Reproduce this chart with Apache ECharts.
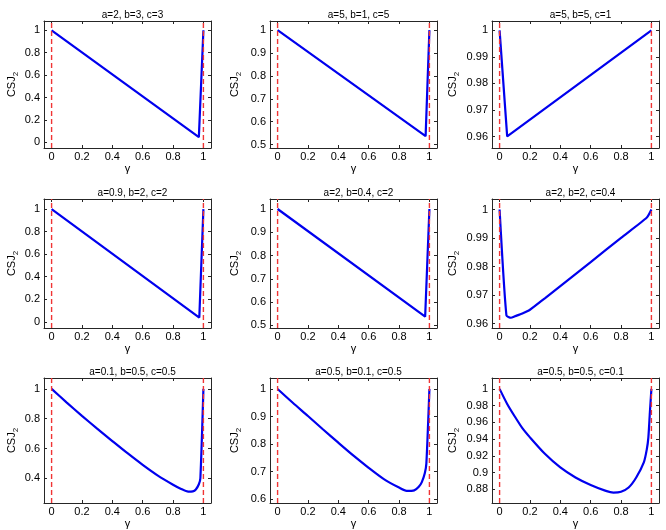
<!DOCTYPE html>
<html>
<head>
<meta charset="utf-8">
<script src="https://cdn.jsdelivr.net/npm/echarts@6/dist/echarts.min.js"></script>
<style>
  html, body { margin: 0; padding: 0; background: #fff; }
  #chart { width: 666px; height: 530px; }
</style>
</head>
<body>
<div id="chart"></div>
<script>
// shared gamma axis
const xTicks = [0, 0.2, 0.4, 0.6, 0.8, 1];
const boundaries = [0, 1];

const titles = [
  'a=2, b=3, c=3', 'a=5, b=1, c=5', 'a=5, b=5, c=1',
  'a=0.9, b=2, c=2', 'a=2, b=0.4, c=2', 'a=2, b=2, c=0.4',
  'a=0.1, b=0.5, c=0.5', 'a=0.5, b=0.1, c=0.5', 'a=0.5, b=0.5, c=0.1'
];

// curves
const p1x = [0, 0.97, 1];
const p1y = [1, 0.047, 1];
const p2x = [0, 0.975, 1];
const p2y = [1, 0.537, 1];
const p3x = [0, 0.05, 1];
const p3y = [1, 0.9601, 1];
const p4x = [0, 0.973, 1];
const p4y = [1, 0.038, 1];
const p5x = [0, 0.972, 1];
const p5y = [1, 0.538, 1];
const p6x = [0, 0.045, 0.075, 0.1, 0.15, 0.2, 0.3, 0.4, 0.6, 0.8, 0.97, 1];
const p6y = [1, 0.9629, 0.9621, 0.9626, 0.9636, 0.9649, 0.969, 0.9732, 0.9816, 0.9901, 0.9972, 1];
const p7x = [0, 0.1, 0.2, 0.3, 0.4, 0.5, 0.6, 0.7, 0.8, 0.85, 0.9, 0.93, 0.95, 0.97, 0.98, 1];
const p7y = [1, 0.908, 0.819, 0.733, 0.65, 0.568, 0.49, 0.418, 0.357, 0.33, 0.31, 0.312, 0.325, 0.36, 0.40, 1];
const p8x = [0, 0.1, 0.2, 0.3, 0.4, 0.5, 0.6, 0.7, 0.8, 0.85, 0.9, 0.93, 0.95, 0.97, 0.98, 1];
const p8y = [1, 0.95, 0.902, 0.853, 0.805, 0.758, 0.714, 0.673, 0.642, 0.63, 0.632, 0.645, 0.662, 0.695, 0.73, 1];
const p9x = [0, 0.05, 0.1, 0.15, 0.2, 0.3, 0.4, 0.5, 0.6, 0.7, 0.75, 0.8, 0.85, 0.9, 0.95, 0.97, 0.98, 0.99, 1];
const p9y = [1, 0.982, 0.967, 0.953, 0.942, 0.922, 0.906, 0.894, 0.885, 0.878, 0.876, 0.877, 0.882, 0.894, 0.912, 0.928, 0.942, 0.972, 1];

// y tick labels
const yTicksA = [0, 0.2, 0.4, 0.6, 0.8, 1];
const yTicksB = [0.5, 0.6, 0.7, 0.8, 0.9, 1];
const yTicksC = [0.96, 0.97, 0.98, 0.99, 1];
const yTicksD = [0.4, 0.6, 0.8, 1];
const yTicksE = [0.6, 0.7, 0.8, 0.9, 1];
const yTicksF = [0.88, 0.9, 0.92, 0.94, 0.96, 0.98, 1];

const panels = [
  { x: p1x, y: p1y, ticks: yTicksA, min: -0.05, max: 1.083, smooth: false },
  { x: p2x, y: p2y, ticks: yTicksB, min: 0.485, max: 1.04, smooth: false },
  { x: p3x, y: p3y, ticks: yTicksC, min: 0.9557, max: 1.0035, smooth: false },
  { x: p4x, y: p4y, ticks: yTicksA, min: -0.055, max: 1.09, smooth: false },
  { x: p5x, y: p5y, ticks: yTicksB, min: 0.489, max: 1.043, smooth: false },
  { x: p6x, y: p6y, ticks: yTicksC, min: 0.9585, max: 1.0037, smooth: 0.2 },
  { x: p7x, y: p7y, ticks: yTicksD, min: 0.234, max: 1.073, smooth: 0.25 },
  { x: p8x, y: p8y, ticks: yTicksE, min: 0.586, max: 1.04, smooth: 0.25 },
  { x: p9x, y: p9y, ticks: yTicksF, min: 0.8635, max: 1.013, smooth: 0.25 }
];

const colLeft = [44, 270, 492];
const colGap = [24, 27, 31];
const rowTop = [21, 199, 378];
const rowH = [127, 129, 130];
const boxW = 167;

const font = 'Liberation Sans';
const axisColor = '#262626';
const fmt = v => String(Math.round(v * 1000) / 1000);

const grid = [], xAxis = [], yAxis = [], series = [], title = [];

panels.forEach((p, i) => {
  const c = i % 3, r = Math.floor(i / 3);
  grid.push({ left: colLeft[c], top: rowTop[r], width: boxW, height: rowH[r] });
  title.push({
    text: titles[i],
    left: colLeft[c] + boxW / 2,
    top: rowTop[r] - 16,
    textAlign: 'center',
    textStyle: { fontSize: 10, fontWeight: 'normal', color: '#000', fontFamily: font }
  });

  // bottom + top gamma axes
  xAxis.push({
    type: 'value', gridIndex: i, position: 'bottom', min: -0.05, max: 1.05,
    axisLine: { show: true, onZero: false, lineStyle: { color: axisColor, width: 1 } },
    axisTick: { show: true, inside: true, length: 3, customValues: xTicks, lineStyle: { color: axisColor } },
    axisLabel: { show: true, customValues: xTicks, formatter: fmt, margin: 3, fontSize: 11, color: '#000', fontFamily: font },
    splitLine: { show: false },
    name: 'γ', nameLocation: 'middle', nameGap: 15,
    nameTextStyle: { fontSize: 11, color: '#000', fontFamily: font }
  });
  xAxis.push({
    type: 'value', gridIndex: i, position: 'top', min: -0.05, max: 1.05,
    axisLine: { show: true, onZero: false, lineStyle: { color: axisColor, width: 1 } },
    axisTick: { show: true, inside: true, length: 3, customValues: xTicks, lineStyle: { color: axisColor } },
    axisLabel: { show: false },
    splitLine: { show: false }
  });
  // left + right CSJ2 axes
  yAxis.push({
    type: 'value', gridIndex: i, position: 'left', min: p.min, max: p.max,
    axisLine: { show: true, onZero: false, lineStyle: { color: axisColor, width: 1 } },
    axisTick: { show: true, inside: true, length: 3, customValues: p.ticks, lineStyle: { color: axisColor } },
    axisLabel: { show: true, customValues: p.ticks, formatter: fmt, margin: 4, fontSize: 11, color: '#000', fontFamily: font },
    splitLine: { show: false },
    name: '{m|CSJ}{s|2}', nameLocation: 'middle', nameGap: colGap[c], nameRotate: 90,
    nameTextStyle: {
      color: '#000', fontFamily: font,
      rich: {
        m: { fontSize: 11, color: '#000', fontFamily: font, verticalAlign: 'bottom', padding: [0, 0, 3, 0] },
        s: { fontSize: 8, color: '#000', fontFamily: font, verticalAlign: 'bottom' }
      }
    }
  });
  yAxis.push({
    type: 'value', gridIndex: i, position: 'right', min: p.min, max: p.max,
    axisLine: { show: true, onZero: false, lineStyle: { color: axisColor, width: 1 } },
    axisTick: { show: true, inside: true, length: 3, customValues: p.ticks, lineStyle: { color: axisColor } },
    axisLabel: { show: false },
    splitLine: { show: false }
  });

  series.push({
    type: 'line',
    xAxisIndex: i * 2,
    yAxisIndex: i * 2,
    data: p.x.map((g, k) => [g, p.y[k]]),
    symbol: 'none',
    smooth: p.smooth,
    lineStyle: { color: '#0000ee', width: 2.2 }
  });

  // red dashed limits at gamma = 0 and 1
  boundaries.forEach(b => {
    series.push({
      type: 'line',
      xAxisIndex: i * 2,
      yAxisIndex: i * 2,
      data: [[b, p.min], [b, p.max]],
      symbol: 'none',
      lineStyle: { color: '#f03434', type: [5, 3], width: 1.4 }
    });
  });
});

const myChart = echarts.init(document.getElementById('chart'));
myChart.setOption({
  animation: false,
  backgroundColor: '#fff',
  title: title,
  grid: grid,
  xAxis: xAxis,
  yAxis: yAxis,
  series: series
});
</script>
</body>
</html>
